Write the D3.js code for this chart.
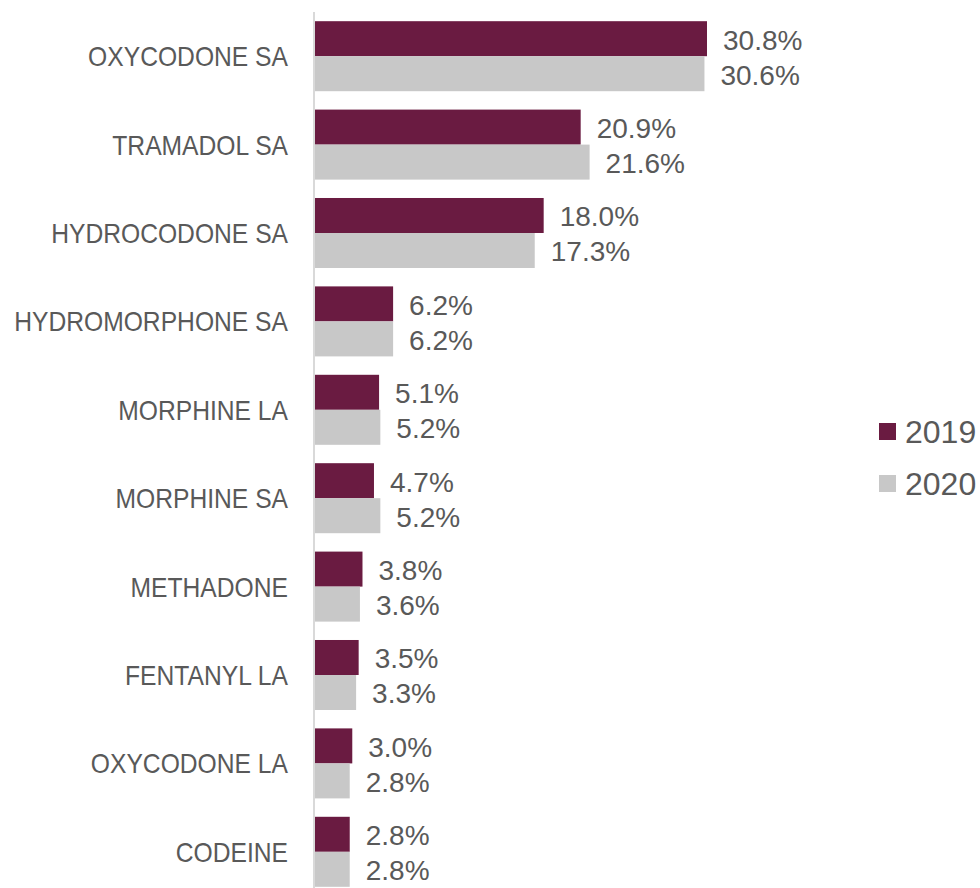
<!DOCTYPE html>
<html>
<head>
<meta charset="utf-8">
<script src="https://cdn.jsdelivr.net/npm/d3@7"></script>
<style>
  html, body { margin: 0; padding: 0; background: #ffffff; }
  svg { display: block; }
</style>
</head>
<body>
<div id="chart"></div>
<script>
// Opioid share by molecule, 2019 vs 2020 (percent)
const categories = [
  "OXYCODONE SA", "TRAMADOL SA", "HYDROCODONE SA", "HYDROMORPHONE SA",
  "MORPHINE LA", "MORPHINE SA", "METHADONE", "FENTANYL LA",
  "OXYCODONE LA", "CODEINE"
];
const seriesNames = ["2019", "2020"];
const values2019 = [30.8, 20.9, 18.0, 6.2, 5.1, 4.7, 3.8, 3.5, 3.0, 2.8];
const values2020 = [30.6, 21.6, 17.3, 6.2, 5.2, 5.2, 3.6, 3.3, 2.8, 2.8];
const seriesColors = ["#6a1b41", "#c8c8c8"];

const width = 980, height = 888;
const axisX = 314;

const svg = d3.select("#chart").append("svg")
  .attr("width", width).attr("height", height);

const rows = categories.map((c, i) => ({ cat: c, vals: [values2019[i], values2020[i]] }));

const x = d3.scaleLinear().domain([0, 30.8]).range([axisX, 707]);
const y = d3.scaleBand().domain(categories).range([12, 896]).paddingInner(0.208).paddingOuter(0.104);
const ySub = d3.scaleBand().domain(seriesNames).range([0, y.bandwidth()]);

const textColor = "#595959";

// bars and value labels
const groups = svg.append("g").selectAll("g").data(rows).join("g")
  .attr("transform", d => `translate(0,${y(d.cat)})`);

groups.selectAll("rect").data(d => d.vals.map((v, k) => ({ v, k })))
  .join("rect")
  .attr("x", x(0))
  .attr("y", d => ySub(seriesNames[d.k]))
  .attr("width", d => x(d.v) - x(0))
  .attr("height", ySub.bandwidth())
  .attr("fill", d => seriesColors[d.k]);

groups.selectAll("text.val").data(d => d.vals.map((v, k) => ({ v, k })))
  .join("text")
  .attr("class", "val")
  .attr("x", d => x(d.v) + 16)
  .attr("y", d => ySub(seriesNames[d.k]) + ySub.bandwidth() / 2 + 11)
  .attr("fill", textColor)
  .style("font-family", "'Liberation Sans', Arial, sans-serif")
  .style("font-size", "28px")
  .text(d => d.v.toFixed(1) + "%");

// category axis
const yAxis = d3.axisLeft(y).tickSize(0).tickPadding(26);
const axisG = svg.append("g").attr("transform", `translate(${axisX},0)`).call(yAxis);
axisG.select(".domain").attr("stroke", "#d9d9d9").attr("stroke-width", 2).attr("d", `M0,12V888`);
axisG.selectAll(".tick text")
  .attr("fill", textColor)
  .attr("dy", "0.36em")
  .style("font-family", "'Liberation Sans', Arial, sans-serif")
  .style("font-size", "28px")
  .each(function () {
    // condensed look: squeeze glyphs horizontally
    const len = this.getComputedTextLength();
    d3.select(this).attr("textLength", len * 0.88).attr("lengthAdjust", "spacingAndGlyphs");
  });

// legend
const legend = svg.append("g").selectAll("g").data(seriesNames).join("g")
  .attr("transform", (d, i) => `translate(879,${423 + i * 52})`);
legend.append("rect").attr("width", 17).attr("height", 17)
  .attr("fill", (d, i) => seriesColors[i]);
legend.append("text")
  .attr("x", 26).attr("y", 20)
  .attr("fill", textColor)
  .style("font-family", "'Liberation Sans', Arial, sans-serif")
  .style("font-size", "32px")
  .text(d => d);
</script>
</body>
</html>
